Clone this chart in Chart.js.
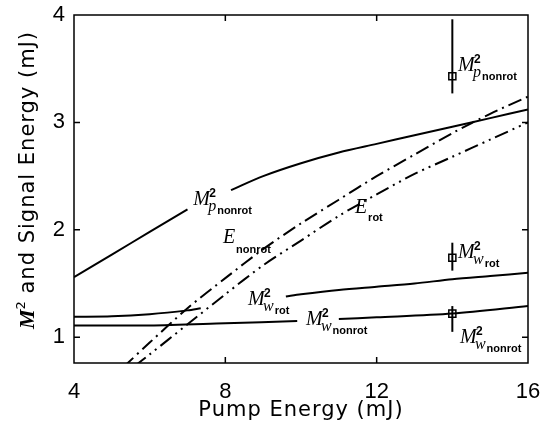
<!DOCTYPE html>
<html>
<head>
<meta charset="utf-8">
<script src="https://cdn.jsdelivr.net/npm/chart.js@4.4.0/dist/chart.umd.min.js"></script>
<style>
html, body { margin: 0; padding: 0; background: #fff; }
#wrap { width: 543px; height: 430px; }
</style>
</head>
<body>
<div id="wrap"><canvas id="myChart"></canvas></div>
<script>
// curves (x = pump energy, mJ); null = gap where a label sits
var mpX      = [4, 5, 6, 7, 7.6, 8.15, 9, 10, 11, 12, 13, 14, 15, 16];
var mpNonrot = [1.56, 1.77, 1.98, 2.19, null, 2.37, 2.5, 2.62, 2.72, 2.8, 2.88, 2.96, 3.04, 3.12];

var mwRotX   = [4, 5, 6, 7, 7.35, 8.5, 9.6, 10, 11, 12, 13, 14, 15, 16];
var mwRot    = [1.19, 1.195, 1.215, 1.25, 1.27, null, 1.38, 1.40, 1.44, 1.47, 1.50, 1.54, 1.57, 1.60];

var mwNonrotX = [4, 6, 8, 9.9, 10.4, 11.0, 12, 14, 16];
var mwNonrot  = [1.11, 1.11, 1.13, 1.15, null, 1.17, 1.185, 1.22, 1.29];

var eNonrotX = [5.3, 6, 7, 8, 9, 10, 11, 12, 13, 14, 15, 16];
var eNonrot  = [0.72, 0.95, 1.27, 1.55, 1.82, 2.06, 2.28, 2.5, 2.7, 2.9, 3.08, 3.24];

var eRotX = [5.6, 6, 7, 8, 9, 10, 11, 12, 13, 14, 15, 16];
var eRot  = [0.73, 0.84, 1.12, 1.4, 1.67, 1.9, 2.13, 2.33, 2.52, 2.68, 2.84, 3.0];

// measured points with error bars
var measX    = [14, 14, 14];
var measY    = [3.43, 1.74, 1.22];
var measLow  = [3.27, 1.62, 1.05];
var measHigh = [3.96, 1.88, 1.29];

var xTicks = [4, 8, 12, 16];
var yTicks = [1, 2, 3, 4];

// curve labels
var mLabelX   = [7.15, 8.6, 10.13, 14.15, 14.15, 14.2];
var mLabelY   = [2.23, 1.30, 1.11, 3.48, 1.74, 0.944];
var mLabelSub = ['p', 'w', 'w', 'p', 'w', 'w'];
var mLabelSub2 = ['nonrot', 'rot', 'nonrot', 'nonrot', 'rot', 'nonrot'];
var eLabelX = [7.94, 11.43];
var eLabelY = [1.88, 2.16];
var eLabelSub = ['nonrot', 'rot'];

var xTitle = 'Pump Energy (mJ)';
var yTitleRest = ' and Signal Energy (mJ)';

function pts(xs, ys) {
    return xs.map(function (x, i) { return { x: x, y: ys[i] }; });
}

function curve(xs, ys, dash) {
    return {
        data: pts(xs, ys),
        showLine: true,
        borderColor: '#000',
        borderWidth: 2,
        borderDash: dash || [],
        pointRadius: 0,
        fill: false,
        spanGaps: false,
        tension: 0.3
    };
}

function drawM(ctx, bx, by, sub, sub2) {
    ctx.font = 'italic 20px "Liberation Serif"';
    ctx.fillText('M', bx, by);
    ctx.font = 'bold 12px "Liberation Sans"';
    ctx.fillText('2', bx + 16, by - 8);
    ctx.font = 'italic 16px "Liberation Serif"';
    ctx.fillText(sub, bx + 15, by + 6);
    var w = ctx.measureText(sub).width;
    ctx.font = 'bold 11px "Liberation Sans"';
    ctx.fillText(sub2, bx + 16 + w, by + 9);
}

var decor = {
    id: 'decor',
    afterDatasetsDraw: function (chart) {
        var ctx = chart.ctx, xs = chart.scales.x, ys = chart.scales.y, a = chart.chartArea;
        ctx.save();
        ctx.strokeStyle = '#000';
        ctx.fillStyle = '#000';

        // frame
        ctx.lineWidth = 1.5;
        ctx.strokeRect(a.left, a.top, a.right - a.left, a.bottom - a.top);

        // inward ticks
        xTicks.forEach(function (v) {
            if (v <= xs.min || v >= xs.max) return;
            var p = xs.getPixelForValue(v);
            ctx.beginPath();
            ctx.moveTo(p, a.bottom); ctx.lineTo(p, a.bottom - 6);
            ctx.moveTo(p, a.top); ctx.lineTo(p, a.top + 6);
            ctx.stroke();
        });
        yTicks.forEach(function (v) {
            if (v <= ys.min || v >= ys.max) return;
            var p = ys.getPixelForValue(v);
            ctx.beginPath();
            ctx.moveTo(a.left, p); ctx.lineTo(a.left + 6, p);
            ctx.moveTo(a.right, p); ctx.lineTo(a.right - 6, p);
            ctx.stroke();
        });

        // error bars
        ctx.lineWidth = 2;
        measX.forEach(function (x, i) {
            var px = xs.getPixelForValue(x);
            ctx.beginPath();
            ctx.moveTo(px, ys.getPixelForValue(measLow[i]));
            ctx.lineTo(px, ys.getPixelForValue(measHigh[i]));
            ctx.stroke();
        });

        // labels
        ctx.textAlign = 'left';
        ctx.textBaseline = 'alphabetic';
        mLabelX.forEach(function (x, i) {
            drawM(ctx, xs.getPixelForValue(x), ys.getPixelForValue(mLabelY[i]), mLabelSub[i], mLabelSub2[i]);
        });
        eLabelX.forEach(function (x, i) {
            var bx = xs.getPixelForValue(x), by = ys.getPixelForValue(eLabelY[i]);
            ctx.font = 'italic 20px "Liberation Serif"';
            ctx.fillText('E', bx, by);
            ctx.font = 'bold 11px "Liberation Sans"';
            ctx.fillText(eLabelSub[i], bx + 13, by + (i === 0 ? 10 : 8));
        });

        // x axis title
        ctx.letterSpacing = '1px';
        ctx.font = '21px "DejaVu Sans"';
        ctx.textAlign = 'center';
        ctx.fillText(xTitle, (a.left + a.right) / 2, 416);

        // y axis title, rotated, with italic M
        ctx.textAlign = 'left';
        ctx.translate(34, (a.top + a.bottom) / 2 - 9);
        ctx.rotate(-Math.PI / 2);
        ctx.letterSpacing = '0px';
        ctx.font = 'bold italic 22px "Liberation Serif"';
        var wM = ctx.measureText('M').width;
        ctx.font = '13px "DejaVu Sans"';
        var w2 = ctx.measureText('2').width;
        ctx.letterSpacing = '1px';
        ctx.font = '21px "DejaVu Sans"';
        var wR = ctx.measureText(yTitleRest).width;
        var x0 = -(wM + w2 + wR) / 2;
        ctx.letterSpacing = '0px';
        ctx.font = 'bold italic 22px "Liberation Serif"';
        ctx.fillText('M', x0, 0);
        ctx.font = '13px "DejaVu Sans"';
        ctx.fillText('2', x0 + wM, -9);
        ctx.letterSpacing = '1px';
        ctx.font = '21px "DejaVu Sans"';
        ctx.fillText(yTitleRest, x0 + wM + w2, 0);
        ctx.restore();
    }
};

var ctx = document.getElementById('myChart').getContext('2d');
var chart = new Chart(ctx, {
    type: 'scatter',
    data: {
        datasets: [
            curve(mpX, mpNonrot),
            curve(mwRotX, mwRot),
            curve(mwNonrotX, mwNonrot),
            curve(eNonrotX, eNonrot, [14, 5, 2, 5]),
            curve(eRotX, eRot, [14, 5, 2, 5, 2, 5]),
            {
                data: pts(measX, measY),
                pointStyle: 'rect',
                pointRadius: 5,
                pointBackgroundColor: 'rgba(0,0,0,0)',
                pointBorderColor: '#000',
                pointBorderWidth: 1.5,
                showLine: false
            }
        ]
    },
    options: {
        responsive: true,
        maintainAspectRatio: false,
        animation: false,
        layout: { padding: { top: 15, right: 15, left: 0, bottom: 0 } },
        plugins: {
            legend: { display: false },
            tooltip: { enabled: false }
        },
        scales: {
            x: {
                type: 'linear',
                min: 4,
                max: 16,
                afterBuildTicks: function (s) { s.ticks = xTicks.map(function (v) { return { value: v }; }); },
                afterFit: function (s) { s.height = 67; s.paddingLeft = 0; s.paddingRight = 0; },
                grid: { display: false },
                border: { display: false },
                ticks: { color: '#000', padding: 8, font: { family: '"Liberation Sans", Arial', size: 22 } },
                title: { display: false }
            },
            y: {
                type: 'linear',
                min: 0.76,
                max: 4,
                afterBuildTicks: function (s) { s.ticks = yTicks.map(function (v) { return { value: v }; }); },
                afterFit: function (s) { s.width = 74; s.paddingTop = 0; s.paddingBottom = 0; },
                grid: { display: false },
                border: { display: false },
                ticks: { color: '#000', padding: 1, font: { family: '"Liberation Sans", Arial', size: 22 } },
                title: { display: false }
            }
        }
    },
    plugins: [decor]
});
</script>
</body>
</html>
